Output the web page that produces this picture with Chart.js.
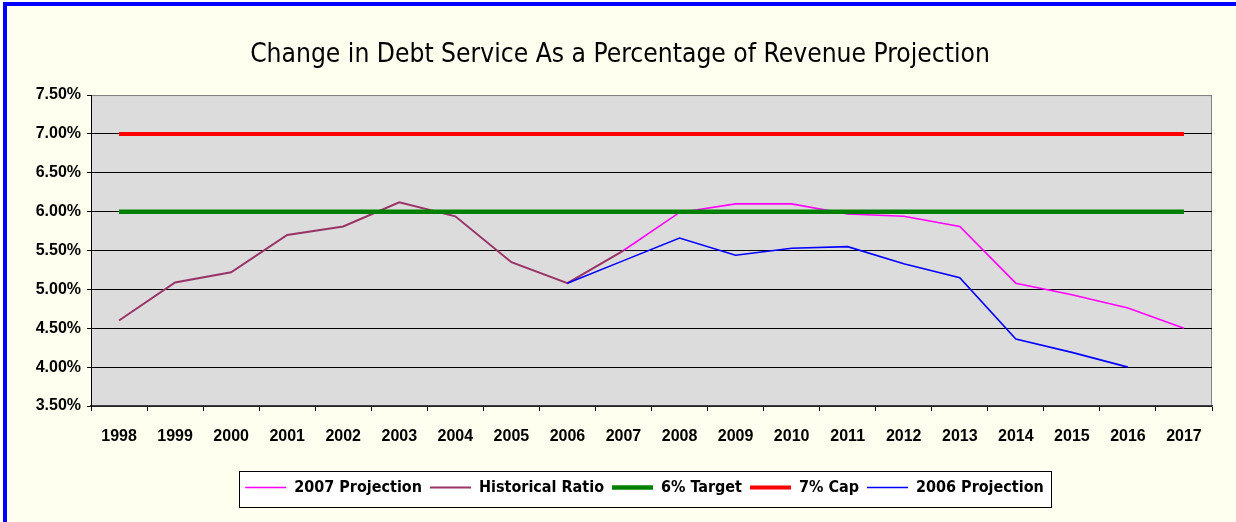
<!DOCTYPE html>
<html><head><meta charset="utf-8">
<script src="https://cdn.jsdelivr.net/npm/chart.js@4.4.0/dist/chart.umd.min.js"></script>
<style>
html,body{margin:0;padding:0;background:#fff;overflow:hidden;width:1236px;height:522px;}
#frame{position:absolute;left:3px;top:2px;width:1240px;height:530px;border:4px solid #0000FF;background:#FFFFEF;box-sizing:border-box;}
#wrap{position:absolute;left:0;top:0;width:1236px;height:522px;}
</style></head><body>
<div id="frame"></div>
<div id="wrap"><canvas id="c" width="1236" height="522"></canvas></div>
<script>
const years = ['1998','1999','2000','2001','2002','2003','2004','2005','2006','2007','2008','2009','2010','2011','2012','2013','2014','2015','2016','2017'];
const proj2007 = [null,null,null,null,null,null,null,null,null,5.50,5.99,6.10,6.10,5.97,5.94,5.81,5.08,4.93,4.76,4.50];
const historical = [4.60,5.09,5.22,5.70,5.81,6.12,5.94,5.35,5.08,5.50,null,null,null,null,null,null,null,null,null,null];
const target6 = [6.00,6.00,6.00,6.00,6.00,6.00,6.00,6.00,6.00,6.00,6.00,6.00,6.00,6.00,6.00,6.00,6.00,6.00,6.00,6.00];
const cap7 = [7.00,7.00,7.00,7.00,7.00,7.00,7.00,7.00,7.00,7.00,7.00,7.00,7.00,7.00,7.00,7.00,7.00,7.00,7.00,7.00];
const proj2006 = [null,null,null,null,null,null,null,null,5.08,5.37,5.66,5.44,5.53,5.55,5.33,5.15,4.36,4.19,4.00,null];
const yMin = 3.5, yMax = 7.5, yStep = 0.5;
const titleText = 'Change in Debt Service As a Percentage of Revenue Projection';

const NARROW = "'DejaVu Sans Condensed','Liberation Sans Narrow',sans-serif";
const SANS = "'Liberation Sans',Arial,sans-serif";

const bgPlugin = {
  id: 'bgPlugin',
  afterLayout(chart) {
    const lg = chart.legend;
    const dx = 38.5;
    lg.left += dx; lg.right += dx;
    if (lg.legendHitBoxes) lg.legendHitBoxes.forEach(h => { h.left += dx; });
    const tb = chart.titleBlock;
    tb.left += 14; tb.right += 14;
  },
  beforeDraw(chart) {
    const ctx = chart.ctx, a = chart.chartArea;
    ctx.save();
    ctx.fillStyle = '#DCDCDC';
    ctx.fillRect(a.left, a.top, a.right - a.left, a.bottom - a.top);
    ctx.strokeStyle = '#808080';
    ctx.lineWidth = 1;
    ctx.strokeRect(a.left + 0.5, a.top + 0.5, a.right - a.left - 1, a.bottom - a.top);
    const hb = chart.legend.legendHitBoxes;
    if (hb && hb.length) {
      const l = Math.min(...hb.map(h => h.left)) - 6;
      const r = Math.max(...hb.map(h => h.left + h.width)) + 7;
      const t = Math.min(...hb.map(h => h.top)) - 9;
      const b = Math.max(...hb.map(h => h.top + h.height)) + 10.5;
      ctx.fillStyle = '#FFFFFF';
      ctx.fillRect(l, t, r - l, b - t);
      ctx.strokeStyle = '#000000';
      ctx.strokeRect(Math.round(l) + 0.5, Math.round(t) + 0.5, Math.round(r - l), Math.round(b - t));
    }
    ctx.restore();
  }
};

new Chart(document.getElementById('c'), {
  type: 'line',
  data: {
    labels: years,
    datasets: [
      { label: '2007 Projection', data: proj2007, borderColor: '#FF00FF', backgroundColor: '#FF00FF', borderWidth: 1.6, order: 4 },
      { label: 'Historical Ratio', data: historical, borderColor: '#993366', backgroundColor: '#993366', borderWidth: 2, order: 3 },
      { label: '6% Target', data: target6, borderColor: '#008000', backgroundColor: '#008000', borderWidth: 4.5, order: 2 },
      { label: '7% Cap', data: cap7, borderColor: '#FF0000', backgroundColor: '#FF0000', borderWidth: 4, order: 1 },
      { label: '2006 Projection', data: proj2006, borderColor: '#0000FF', backgroundColor: '#0000FF', borderWidth: 1.6, order: 0 }
    ]
  },
  options: {
    responsive: false,
    animation: false,
    devicePixelRatio: 1,
    spanGaps: false,
    elements: { point: { radius: 0, hoverRadius: 0 }, line: { tension: 0 } },
    layout: { padding: { left: 0, right: 24, top: 0, bottom: 16.5 } },
    plugins: {
      tooltip: { enabled: false },
      title: {
        display: true, text: titleText, color: '#000',
        font: { family: NARROW, size: 26.2, weight: 'normal', lineHeight: 1.2 },
        padding: { top: 39, bottom: 24.6 }
      },
      legend: {
        position: 'bottom',
        labels: {
          usePointStyle: true, pointStyle: 'line', pointStyleWidth: 41,
          color: '#000', padding: 8,
          sort: (a, b) => a.datasetIndex - b.datasetIndex,
          font: { family: NARROW, size: 16, weight: 'bold' }
        }
      }
    },
    scales: {
      x: {
        offset: true,
        afterFit(s) { s.height = 65.5; },
        grid: { offset: true, drawOnChartArea: false, drawTicks: true, tickLength: 5, tickColor: '#000', color: '#000' },
        border: { display: true, color: '#404040', width: 1.5 },
        ticks: { color: '#000', padding: 16, maxRotation: 0, autoSkip: false, font: { family: SANS, size: 16, weight: 'bold' } }
      },
      y: {
        min: yMin, max: yMax,
        afterFit(s) { s.width = 91; },
        grid: { color: c => (c.tick && c.tick.value === yMax) ? '#808080' : '#000', lineWidth: 1, drawTicks: true, tickLength: 4, tickColor: '#000' },
        border: { display: true, color: '#000', width: 1 },
        ticks: { stepSize: yStep, color: '#000', padding: 6, font: { family: SANS, size: 16, weight: 'bold' },
          callback: v => v.toFixed(2) + '%' }
      }
    }
  },
  plugins: [bgPlugin]
});
</script>
</body></html>
